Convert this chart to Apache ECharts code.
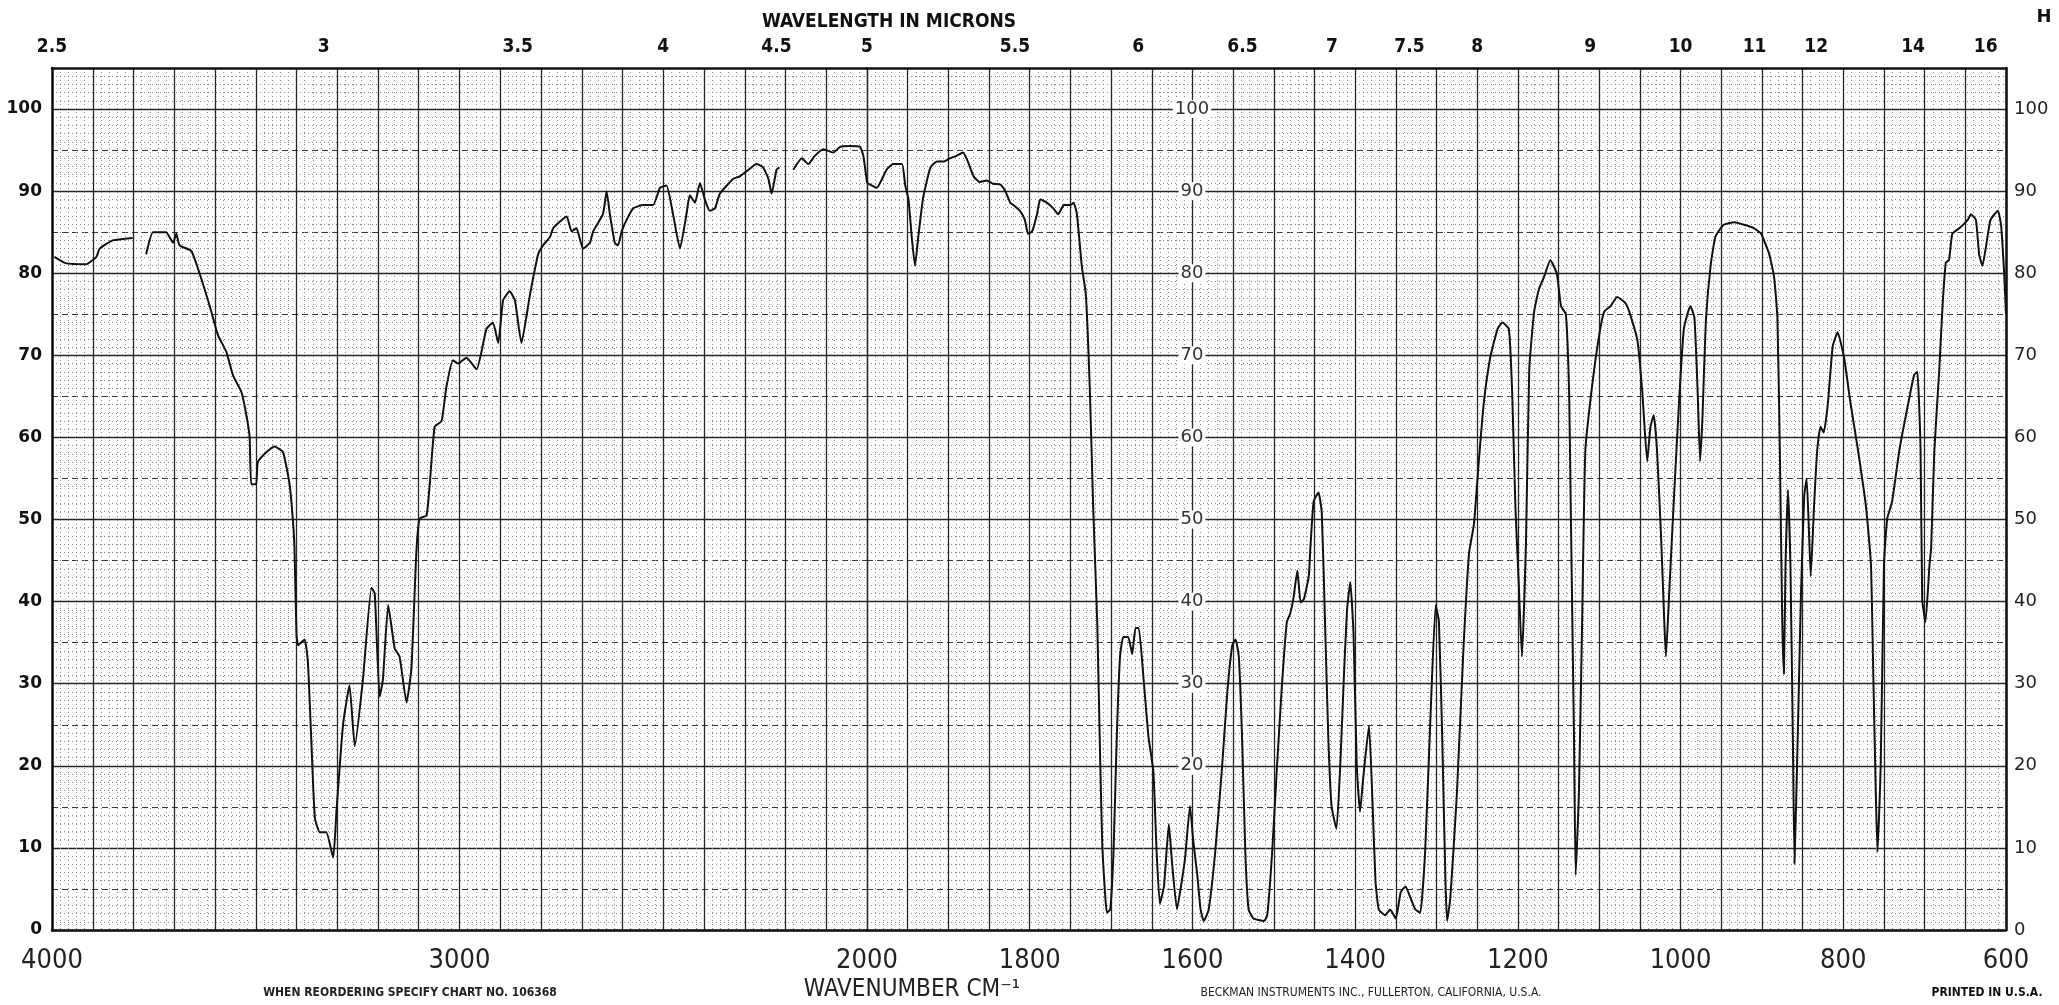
<!DOCTYPE html>
<html><head><meta charset="utf-8">
<script src="https://cdn.jsdelivr.net/npm/echarts@6/dist/echarts.min.js"></script>
<style>html,body{margin:0;padding:0;background:#fff}#c{width:2059px;height:1005px}</style>
</head><body><div id="c"></div><script>
// ---- data: wavenumber (cm-1) and % transmittance, 4000-2000 region ----
const wnLeft = [3994,3965,3916,3891,3883,3851,3802,3790,3769,3752,3720,3703,3695,3687,3658,3638,3613,3593,3572,3556,3535,3523,3515,3511,3499,3495,3474,3454,3433,3417,3409,3405,3400,3396,3380,3372,3364,3355,3343,3327,3310,3302,3286,3270,3257,3237,3216,3208,3196,3188,3175,3159,3147,3130,3118,3106,3098,3081,3073,3061,3044,3032,3016,3004,2983,2958,2934,2918,2905,2893,2877,2864,2848,2827,2807,2795,2778,2770,2737,2725,2713,2697,2680,2672,2648,2639,2631,2619,2611,2602,2590,2574,2549,2525,2508,2492,2476,2459,2443,2435,2422,2410,2398,2386,2373,2361,2328,2312,2291,2271,2255,2242,2234,2222,2215,2200,2181,2160,2144,2128,2107,2083,2066,2042,2017,2009,2000];
const tLeft = [82,81.2,81.1,82,83,84,84.3,null,82.3,85,85,83.7,84.8,83.4,82.7,80,76,72.5,70.4,67.6,65.5,62.7,60,54.3,54.3,57,58.2,58.9,58.2,54.3,50,46.6,36,34.7,35.4,32.6,23.5,13.7,11.9,11.9,8.8,14.4,24.9,29.8,22.4,30.5,41.7,41,28.4,30.5,39.6,34.3,33.3,27.7,31.9,45.9,50.1,50.5,54.3,61.3,62,66.2,69.4,69,69.7,68.3,73.2,74,71.5,76.7,77.8,76.7,71.5,77.4,82.3,83.4,84.4,85.5,86.9,85.1,85.5,83,83.7,85.1,87.2,90,87.2,83.7,83.4,85.1,86.5,87.9,88.3,88.3,90.4,90.7,87.2,83,87.2,89.5,88.6,91,89,87.6,87.9,89.7,91.5,91.8,92.6,93.3,92.9,91.5,89.7,92.6,92.9,null,92.6,94,93.3,94.3,95.1,94.7,95.4,95.5,95.4,94.3,91];
// ---- 2000-600 region ----
const wnRight = [2000,1988,1976,1968,1957,1953,1949,1945,1941,1937,1931,1922,1914,1906,1898,1890,1882,1876,1869,1861,1853,1845,1836,1830,1824,1820,1812,1806,1802,1797,1791,1787,1779,1771,1765,1758,1750,1746,1742,1736,1731,1726,1722,1717,1714,1711,1707,1705,1701,1697,1693,1689,1685,1679,1674,1670,1666,1660,1654,1648,1644,1640,1635,1629,1625,1619,1613,1609,1603,1599,1594,1590,1586,1580,1572,1564,1557,1551,1547,1543,1539,1535,1531,1525,1512,1508,1502,1496,1490,1484,1480,1476,1471,1467,1463,1457,1455,1451,1445,1441,1437,1433,1429,1423,1418,1414,1410,1406,1402,1398,1394,1390,1383,1379,1375,1371,1363,1357,1350,1344,1338,1332,1326,1320,1314,1307,1301,1297,1293,1289,1287,1283,1275,1267,1260,1254,1248,1242,1234,1225,1219,1211,1207,1203,1199,1195,1190,1186,1180,1174,1168,1160,1152,1147,1141,1137,1135,1131,1129,1125,1121,1117,1108,1100,1094,1086,1078,1068,1063,1053,1047,1041,1037,1033,1029,1024,1020,1018,1014,1008,1002,996,988,983,979,976,973,969,963,957,947,934,922,910,901,891,885,881,878,875,873,871,868,865,862,860,856,852,848,845,842,840,836,832,828,824,819,813,807,799,791,782,772,766,763,760,758,754,750,746,740,731,723,713,709,705,703,699,694,692,688,682,678,674,670,666,657,647,643,637,633,629,625,619,610,606,602,600];
const tRight = [91,90.4,92.6,93.3,93.3,90.7,89,84.4,80.9,84.4,89.2,92.9,93.6,93.6,94,94.3,94.7,93.6,91.8,91.1,91.3,90.9,90.8,90,88.6,88.3,87.6,86.5,84.8,85.1,87.2,89,88.6,87.9,87.2,88.3,88.3,88.6,87.2,80.9,77.4,65.5,51.5,37.5,23.5,10.9,3.9,2.1,2.5,9.5,23.5,33.3,35.7,35.7,33.6,36.8,36.8,30.5,23.5,19.3,9.5,3.2,5.3,12.9,8.1,2.5,6,8.8,15.1,10.9,6.7,2.5,1.1,2.5,9.5,19.3,29.1,34.7,35.4,33.3,23.5,9.5,2.5,1.4,1.1,1.8,9.5,20,29.8,37.5,38.5,40.3,43.8,39.9,40.3,43.1,46.6,52.2,53.3,50.8,37.5,23.5,15.1,12.3,20.7,30.5,38.9,42.4,36.1,20,14.4,18.6,24.9,16.5,6,2.5,1.8,2.5,1.4,4.6,5.3,3.9,2.5,2.1,9.5,27,39.6,37.5,23.5,6,1.1,3.9,16.5,34,45.9,49.4,57.1,64.1,69.7,73.2,74,73.2,65.5,51.5,42.4,33.3,47.3,68.3,75.3,78.1,79.5,81.6,79.9,76,75,65.5,51.5,23.5,6.7,16.5,37.5,58.5,66.9,72.5,75.3,76,77.1,76.4,75.3,71.8,65.5,57.1,61.3,62.7,58.5,48,37.5,33.3,41,52.9,64.1,73.2,76,74.6,65.5,57.1,62.7,74,81,84.5,85.9,86.2,85.9,85.5,84.8,82.3,79.5,74.6,58.5,37.5,31.2,44.5,53.6,44.5,23.5,8.1,23.5,41,52.9,55,48,43.1,51.5,58.5,61.3,60.6,64.1,71.1,72.8,69.7,64.1,58.5,51.5,44.5,30.5,16.5,9.5,20,44.5,50.1,52.2,58.5,62.7,67.6,68,58.5,40.3,37.5,44.5,46.6,58.5,68.3,76,81.3,81.6,84.8,85.5,86.5,87.2,86.5,82.3,80.9,83,86.5,87.6,85.8,79.5,75];
// ---- tick labels ----
const micronTicks = [2.5,3,3.5,4,4.5,5,5.5,6,6.5,7,7.5,8,9,10,11,12,14,16];
const wnLabelsLeft = [4000,3000,2000];
const wnLabelsRight = [1800,1600,1400,1200,1000,800,600];
const innerLabels = [20,30,40,50,60,70,80,90,100];

const pairs = (xs, ys) => xs.map((x, i) => [x, ys[i]]);
const micronWn = micronTicks.map(m => 10000 / m);
const micronFmt = v => String(Math.round(100000 / v) / 10);

const NARROW = '"Liberation Sans Narrow","DejaVu Sans Condensed",sans-serif';
const MAJ = '#262626', MIN = '#888';

function bottomX(grid, min, max, interval, labels) {
  return {
    type: 'value', gridIndex: grid, position: 'bottom', min, max, interval, inverse: true,
    axisLine: { show: true, onZero: false, lineStyle: { color: '#111', width: 2.5 } },
    axisTick: { show: false },
    axisLabel: { customValues: labels, formatter: v => String(v), margin: 17, color: '#222', fontSize: 27, fontFamily: NARROW },
    splitLine: { show: true, lineStyle: { color: MAJ, width: 1.3 } },
    minorTick: { show: false, splitNumber: 5 },
    minorSplitLine: { show: true, lineStyle: { color: MIN, width: 1, type: [1, 3] } }
  };
}
function topX(grid, min, max, values) {
  return {
    type: 'value', gridIndex: grid, position: 'top', min, max, inverse: true,
    axisLine: { show: true, onZero: false, lineStyle: { color: '#111', width: 2.5 } },
    axisTick: { show: false }, splitLine: { show: false },
    axisLabel: { customValues: values, formatter: micronFmt, margin: 11, color: '#111',
      fontSize: 19, fontWeight: 'bold', fontFamily: NARROW }
  };
}
function mainY(grid, pos, labelStyle, showLine) {
  return {
    type: 'value', gridIndex: grid, position: pos, min: 0, max: 105, interval: 5,
    axisLine: { show: showLine, onZero: false, lineStyle: { color: '#111', width: 2.5 } },
    axisTick: { show: false },
    axisLabel: Object.assign({ formatter: v => (v % 10 === 0 && v <= 100) ? String(v) : '' }, labelStyle),
    splitLine: { show: true, lineStyle: { color: [MAJ, 'rgba(0,0,0,0)'], width: 1.4 } },
    minorTick: { show: false, splitNumber: 5 },
    minorSplitLine: { show: true, lineStyle: { color: MIN, width: 1, type: [1, 3] } }
  };
}
function dashY(grid, pos) {
  return {
    type: 'value', gridIndex: grid, position: pos, min: 0, max: 105, interval: 5,
    axisLine: { show: false }, axisTick: { show: false }, axisLabel: { show: false },
    splitLine: { show: true, lineStyle: { color: ['rgba(0,0,0,0)', '#3a3a3a'], width: 1.1, type: [6, 4] } }
  };
}

const chart = echarts.init(document.getElementById('c'), null, { renderer: 'canvas' });
chart.setOption({
  animation: false,
  backgroundColor: '#fff',
  grid: [
    { left: 52, top: 68, width: 815, height: 862 },
    { left: 867, top: 68, width: 1139, height: 862 }
  ],
  xAxis: [
    bottomX(0, 2000, 4000, 100, wnLabelsLeft),
    topX(0, 2000, 4000, micronWn.filter(v => v >= 2000)),
    bottomX(1, 600, 2000, 50, wnLabelsRight),
    topX(1, 600, 2000, micronWn.filter(v => v < 2000))
  ],
  yAxis: [
    mainY(0, 'left', { margin: 10, color: '#111', fontSize: 17, fontWeight: 'bold', fontFamily: '"DejaVu Sans",sans-serif' }, true),
    dashY(0, 'left'),
    mainY(1, 'right', { margin: 8, color: '#222', fontSize: 18, fontFamily: '"DejaVu Sans",sans-serif' }, true),
    dashY(1, 'right'),
    {
      type: 'value', gridIndex: 1, position: 'left', offset: -325, min: 0, max: 105, interval: 10,
      axisLine: { show: false }, axisTick: { show: false }, splitLine: { show: false },
      axisLabel: { customValues: innerLabels, margin: 0, align: 'center', color: '#333', fontSize: 18,
        fontFamily: '"DejaVu Sans",sans-serif', backgroundColor: '#fff', padding: [0, 2] }
    }
  ],
  series: [
    { type: 'line', xAxisIndex: 0, yAxisIndex: 0, data: pairs(wnLeft, tLeft), showSymbol: false,
      connectNulls: false, smooth: 0.15, lineStyle: { color: '#111', width: 2 }, z: 5 },
    { type: 'line', xAxisIndex: 2, yAxisIndex: 2, data: pairs(wnRight, tRight), showSymbol: false,
      connectNulls: false, smooth: 0.15, lineStyle: { color: '#111', width: 2 }, z: 5 }
  ],
  graphic: [
    { type: 'text', x: 889, y: 22, style: { text: 'WAVELENGTH IN MICRONS', align: 'center', verticalAlign: 'middle',
      fill: '#111', font: 'bold 19px ' + NARROW } },
    { type: 'text', x: 912, y: 990, style: { text: 'WAVENUMBER CM⁻¹', align: 'center', verticalAlign: 'middle',
      fill: '#222', font: '24px ' + NARROW } },
    { type: 'text', x: 410, y: 993, style: { text: 'WHEN REORDERING SPECIFY CHART NO. 106368', align: 'center', verticalAlign: 'middle',
      fill: '#222', font: 'bold 12px ' + NARROW } },
    { type: 'text', x: 1371, y: 993, style: { text: 'BECKMAN INSTRUMENTS INC., FULLERTON, CALIFORNIA, U.S.A.', align: 'center', verticalAlign: 'middle',
      fill: '#222', font: '12px ' + NARROW } },
    { type: 'text', x: 1987, y: 993, style: { text: 'PRINTED IN U.S.A.', align: 'center', verticalAlign: 'middle',
      fill: '#111', font: 'bold 12px ' + NARROW } },
    { type: 'text', x: 2044, y: 17, style: { text: 'H', align: 'center', verticalAlign: 'middle',
      fill: '#111', font: 'bold 18px "DejaVu Sans",sans-serif' } }
  ]
});
</script></body></html>
